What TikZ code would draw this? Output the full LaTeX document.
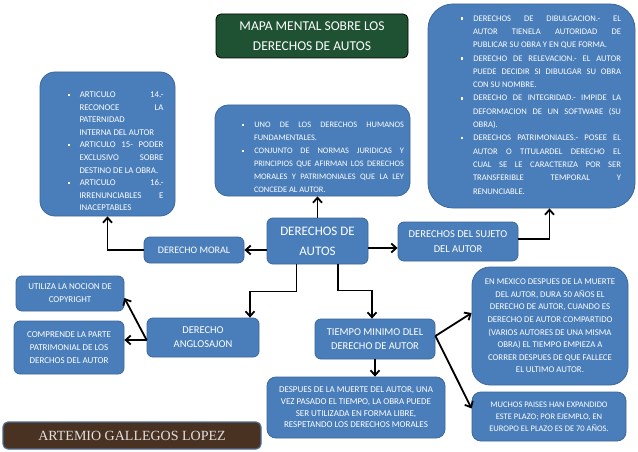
\documentclass[tikz,border=0pt]{standalone}
\usepackage{fontspec}
\setmainfont{Carlito}
\newfontfamily\autorfont{Liberation Serif}
\usetikzlibrary{arrows.meta, positioning}
\definecolor{BoxBlue}{HTML}{4A7EBB}
\definecolor{BoxEdge}{HTML}{3A6699}
\definecolor{MarbleGreen}{HTML}{1F5233}
\definecolor{MarbleBrown}{HTML}{4A3222}
\definecolor{FrameSlate}{HTML}{4D6C93}
\newcommand{\letra}[2]{\fontsize{#1}{#2}\selectfont}
\newcommand{\cuadrito}{\rule[0.35ex]{2.3pt}{2.3pt}}
\newenvironment{vinetas}{\hyphenpenalty=10000\exhyphenpenalty=10000%
  \begin{list}{\cuadrito}{\setlength{\leftmargin}{12pt}\setlength{\labelsep}{10pt}%
  \setlength{\labelwidth}{2pt}\setlength{\itemsep}{0pt}\setlength{\parsep}{0pt}%
  \setlength{\topsep}{0pt}\setlength{\partopsep}{0pt}}}{\end{list}}

\begin{document}
\begin{tikzpicture}[
    x=1pt, y=-1pt,
    box/.style={rectangle, rounded corners=6pt, fill=BoxBlue, draw=BoxEdge, line width=0.8pt,
                text=white, align=center, inner sep=0pt},
    bigbox/.style={box, rounded corners=16pt},
    marble/.style={rectangle, rounded corners=5pt, line width=0.8pt, align=center, inner sep=0pt},
    listtext/.style={text=white, align=justify, inner sep=0pt},
    link/.style={-{Straight Barb[length=5pt, width=9pt]}, line width=1.8pt, black}
]
    \useasboundingbox (0,0) rectangle (638,452);

    % Title and author
    \node[marble, fill=MarbleGreen, draw=black, text=white, minimum width=192, minimum height=44,
          font=\letra{13.5}{20}] (title) at (312,36) {MAPA MENTAL SOBRE LOS\\DERECHOS DE AUTOS};
    \node[marble, fill=MarbleBrown, draw=FrameSlate, line width=1.2pt, text=white!88!black,
          minimum width=258, minimum height=27, font={\autorfont\letra{14}{16}}] (author) at (132,435.5)
          {ARTEMIO GALLEGOS LOPEZ};

    % Bullet boxes
    \node[bigbox, rounded corners=15pt, minimum width=135, minimum height=144] (art) at (107.5,144) {};
    \node[listtext, text width=96, font=\letra{8.8}{12.6}] (arttext) at ([xshift=8pt, yshift=-4pt]art.center) {%
      \begin{vinetas}
        \item ARTICULO 14.-\linebreak RECONOCE LA\linebreak PATERNIDAD\\ INTERNA DEL AUTOR
        \item ARTICULO 15- PODER\linebreak EXCLUSIVO SOBRE\linebreak DESTINO DE LA OBRA.
        \item ARTICULO 16.-\linebreak IRRENUNCIABLES E\linebreak INACEPTABLES
      \end{vinetas}};

    \node[bigbox, rounded corners=13pt, minimum width=195, minimum height=91] (def) at (312.5,150.5) {};
    \node[listtext, text width=162, font=\letra{8.4}{13}] (deftext) at ([xshift=10.5pt, yshift=-3pt]def.center) {%
      \begin{vinetas}
        \item UNO DE LOS DERECHOS HUMANOS\linebreak FUNDAMENTALES.
        \item CONJUNTO DE NORMAS JURIDICAS Y\linebreak PRINCIPIOS QUE AFIRMAN LOS DERECHOS\linebreak
              MORALES Y PATRIMONIALES QUE LA LEY\linebreak CONCEDE AL AUTOR.
      \end{vinetas}};

    \node[bigbox, rounded corners=25pt, minimum width=207, minimum height=204] (pat) at (531.5,106) {};
    \node[listtext, text width=160, font=\letra{8.6}{13.3}] (pattext) at ([xshift=9.5pt, yshift=5pt]pat.center) {%
      \begin{vinetas}
        \item DERECHOS DE DIBULGACION.- EL\linebreak AUTOR TIENELA AUTORIDAD DE\linebreak
              PUBLICAR SU OBRA Y EN QUE FORMA.
        \item DERECHO DE RELEVACION.- EL AUTOR\linebreak PUEDE DECIDIR SI DIBULGAR SU OBRA\linebreak
              CON SU NOMBRE.
        \item DERECHO DE INTEGRIDAD.- IMPIDE LA\linebreak DEFORMACION DE UN SOFTWARE (SU\linebreak OBRA).
        \item DERECHOS PATRIMONIALES.- POSEE EL\linebreak AUTOR O TITULARDEL DERECHO EL\linebreak
              CUAL SE LE CARACTERIZA POR SER\linebreak TRANSFERIBLE TEMPORAL Y\linebreak RENUNCIABLE.
      \end{vinetas}};

    % Main nodes
    \node[box, minimum width=101, minimum height=46, font=\letra{13}{20}] (autos) at (317.5,241) {DERECHOS DE\\AUTOS};
    \node[box, minimum width=100, minimum height=26, font=\letra{10}{12}] (moral) at (194,250) {DERECHO MORAL};
    \node[box, minimum width=120, minimum height=39, font=\letra{10.5}{15}] (sujeto) at (458,241.5)
          {DERECHOS DEL SUJETO\\DEL AUTOR};
    \node[box, minimum width=112, minimum height=39, font=\letra{10.5}{14}] (ang) at (203,337.5) {DERECHO\\ANGLOSAJON};
    \node[box, minimum width=120, minimum height=40, font=\letra{10.5}{14}] (tiempo) at (375,339)
          {TIEMPO MINIMO DLEL\\DERECHO DE AUTOR};

    % Leaves
    \node[box, minimum width=108, minimum height=35, font=\letra{9}{13}] (util) at (70,293.5)
          {UTILIZA LA NOCION DE\\COPYRIGHT};
    \node[box, minimum width=110, minimum height=53, font=\letra{9}{13}] (comp) at (69,347.5)
          {COMPRENDE LA PARTE\\PATRIMONIAL DE LOS\\DERCHOS DEL AUTOR};
    \node[box, rounded corners=9pt, minimum width=178, minimum height=61, font=\letra{9}{11.6}] (despues) at (356,407.5)
          {DESPUES DE LA MUERTE DEL AUTOR, UNA\\VEZ PASADO EL TIEMPO, LA OBRA PUEDE\\SER UTILIZADA EN FORMA LIBRE,\\RESPETANDO LOS DERECHOS MORALES};
    \node[bigbox, rounded corners=18pt, minimum width=156, minimum height=118, font=\letra{8.8}{12.6}] (mexico) at (550,326)
          {EN MEXICO DESPUES DE LA MUERTE\\DEL AUTOR, DURA 50 AÑOS EL\\DERECHO DE AUTOR, CUANDO ES\\DERECHO DE AUTOR COMPARTIDO\\
           (VARIOS AUTORES DE UNA MISMA\\OBRA) EL TIEMPO EMPIEZA A\\CORRER DESPUES DE QUE FALLECE\\EL ULTIMO AUTOR.};
    \node[box, rounded corners=9pt, minimum width=154, minimum height=49, font=\letra{8.5}{12}] (muchos) at (549,416.5)
          {MUCHOS PAISES HAN EXPANDIDO\\ESTE PLAZO; POR EJEMPLO, EN\\EUROPO EL PLAZO ES DE 70 AÑOS.};

    % Connectors
    \draw[link] (autos.north) -- (autos.north |- def.south);
    \draw[link] (autos.west |- moral.east) -- (moral.east);
    \draw[link] (moral.west) -| (art.south);
    \draw[link] ([yshift=-7pt]autos.east) -- ([yshift=-7pt]autos.east -| sujeto.west);
    \draw[link] ([yshift=2.5pt]sujeto.east) -| ([xshift=18pt]pat.south);
    \draw[link] ([xshift=-21pt]autos.south) -- ++(0,27) -| ([xshift=47pt]ang.north);
    \draw[link] ([xshift=20.5pt]autos.south) -- ++(0,26) -| ([xshift=-3pt]tiempo.north);
    \draw[link] ([yshift=-2.5pt]ang.west) -- ([yshift=-4.5pt]util.east);
    \draw[link] ([yshift=-2.5pt]ang.west) -- ([yshift=-2.5pt]ang.west -| comp.east);
    \draw[link] (tiempo.south) -- (tiempo.south |- despues.north);
    \draw[link] ([yshift=3pt]tiempo.east) -- ([yshift=13pt]mexico.west);
    \draw[link] ([yshift=3pt]tiempo.east) -- ([yshift=8pt]muchos.west);
\end{tikzpicture}
\end{document}
